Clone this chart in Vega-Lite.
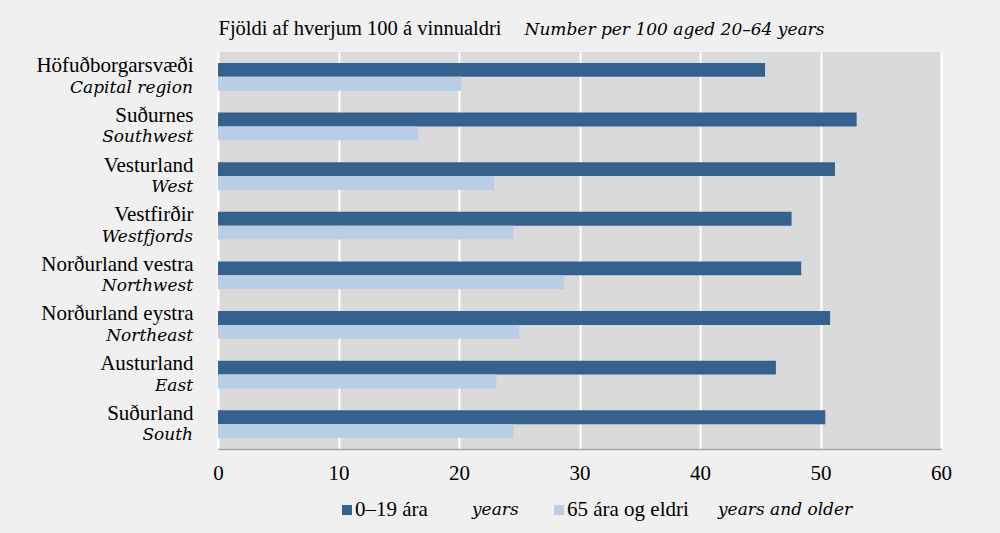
{
  "$schema": "https://vega.github.io/schema/vega-lite/v6.json",
  "background": "#f0f0f0",
  "padding": {"left": 35, "top": 18, "right": 50, "bottom": 14},
  "spacing": 16,
  "config": {
    "font": "Liberation Serif",
    "view": {"stroke": null},
    "axis": {"labelFont": "Liberation Serif", "titleFont": "Liberation Serif", "labelColor": "#000000", "titleColor": "#000000", "labelFontSize": 21, "titleFontSize": 20.5, "titleFontWeight": "normal"},
    "text": {"font": "Liberation Serif", "fontSize": 21, "color": "#000000"}
  },
  "datasets": {
    "bars": [
      {"region": "Höfuðborgarsvæði", "group": "0–19 ára", "value": 45.4},
      {"region": "Höfuðborgarsvæði", "group": "65 ára og eldri", "value": 20.2},
      {"region": "Suðurnes", "group": "0–19 ára", "value": 53.0},
      {"region": "Suðurnes", "group": "65 ára og eldri", "value": 16.6},
      {"region": "Vesturland", "group": "0–19 ára", "value": 51.2},
      {"region": "Vesturland", "group": "65 ára og eldri", "value": 22.9},
      {"region": "Vestfirðir", "group": "0–19 ára", "value": 47.6},
      {"region": "Vestfirðir", "group": "65 ára og eldri", "value": 24.5},
      {"region": "Norðurland vestra", "group": "0–19 ára", "value": 48.4},
      {"region": "Norðurland vestra", "group": "65 ára og eldri", "value": 28.7},
      {"region": "Norðurland eystra", "group": "0–19 ára", "value": 50.8},
      {"region": "Norðurland eystra", "group": "65 ára og eldri", "value": 25.0},
      {"region": "Austurland", "group": "0–19 ára", "value": 46.3},
      {"region": "Austurland", "group": "65 ára og eldri", "value": 23.1},
      {"region": "Suðurland", "group": "0–19 ára", "value": 50.4},
      {"region": "Suðurland", "group": "65 ára og eldri", "value": 24.5}
    ],
    "labels": [
      {"region": "Höfuðborgarsvæði", "en": "Capital region"},
      {"region": "Suðurnes", "en": "Southwest"},
      {"region": "Vesturland", "en": "West"},
      {"region": "Vestfirðir", "en": "Westfjords"},
      {"region": "Norðurland vestra", "en": "Northwest"},
      {"region": "Norðurland eystra", "en": "Northeast"},
      {"region": "Austurland", "en": "East"},
      {"region": "Suðurland", "en": "South"}
    ],
    "legend": [
      {"group": "0–19 ára", "en": "years"},
      {"group": "65 ára og eldri", "en": "years and older"}
    ]
  },
  "vconcat": [
    {
      "width": 723,
      "height": 397,
      "view": {"fill": "#dadada", "stroke": null},
      "resolve": {"axis": {"x": "independent"}},
      "layer": [
        {
          "data": {"name": "bars"},
          "mark": {"type": "bar"},
          "encoding": {
            "y": {
              "field": "region", "type": "nominal",
              "sort": ["Höfuðborgarsvæði", "Suðurnes", "Vesturland", "Vestfirðir", "Norðurland vestra", "Norðurland eystra", "Austurland", "Suðurland"],
              "scale": {"paddingInner": 0.44, "paddingOuter": 0.22},
              "axis": {
                "ticks": false, "domain": false, "labelPadding": 25, "labelOffset": -4.5, "labelBaseline": "alphabetic",
                "title": "Fjöldi af hverjum 100 á vinnualdri", "titleAngle": 0, "titleX": 0, "titleY": -18,
                "titleAlign": "left", "titleBaseline": "alphabetic"
              }
            },
            "yOffset": {"field": "group", "type": "nominal", "sort": ["0–19 ára", "65 ára og eldri"], "scale": {"paddingInner": 0}},
            "x": {
              "field": "value", "type": "quantitative",
              "scale": {"domain": [0, 60], "nice": false},
              "axis": {
                "values": [0, 10, 20, 30, 40, 50, 60], "title": null, "ticks": false,
                "domainColor": "#a6a6a6", "domainWidth": 1.5, "gridColor": "#ffffff", "gridWidth": 2, "gridOpacity": 1,
                "labelPadding": 13, "labelFlush": false
              }
            },
            "color": {
              "field": "group", "type": "nominal",
              "scale": {"domain": ["0–19 ára", "65 ára og eldri"], "range": ["#35618f", "#b9cde5"]},
              "legend": null
            }
          }
        },
        {
          "data": {"name": "labels"},
          "mark": {"type": "text", "align": "right", "baseline": "alphabetic", "dx": -25, "dy": 16, "fontStyle": "italic", "font": "DejaVu Serif", "fontSize": 17},
          "encoding": {
            "y": {"field": "region", "type": "nominal", "sort": ["Höfuðborgarsvæði", "Suðurnes", "Vesturland", "Vestfirðir", "Norðurland vestra", "Norðurland eystra", "Austurland", "Suðurland"]},
            "x": {
              "datum": 0, "type": "quantitative",
              "axis": {
                "orient": "top", "labels": false, "ticks": false, "domain": false, "grid": false,
                "title": "Number per 100 aged 20–64 years", "titleFontStyle": "italic", "titleFont": "DejaVu Serif", "titleFontSize": 17,
                "titleX": 306, "titleY": -18, "titleAlign": "left", "titleBaseline": "alphabetic"
              }
            },
            "text": {"field": "en"}
          }
        }
      ]
    },
    {
      "width": 636,
      "height": 22,
      "data": {"name": "legend"},
      "resolve": {"scale": {"x": "independent"}},
      "layer": [
        {
          "mark": {"type": "square", "size": 100, "opacity": 1},
          "encoding": {
            "x": {"field": "group", "type": "nominal", "sort": ["0–19 ára", "65 ára og eldri"], "scale": {"type": "point", "padding": 1, "align": 0.3042}, "axis": null},
            "color": {"field": "group", "type": "nominal", "scale": {"domain": ["0–19 ára", "65 ára og eldri"], "range": ["#35618f", "#b9cde5"]}, "legend": null}
          }
        },
        {
          "mark": {"type": "text", "align": "left", "baseline": "middle", "dx": 8, "font": "Liberation Serif", "fontSize": 21},
          "encoding": {
            "x": {"field": "group", "type": "nominal", "sort": ["0–19 ára", "65 ára og eldri"], "scale": {"type": "point", "padding": 1, "align": 0.3042}, "axis": null},
            "text": {"field": "group"}
          }
        },
        {
          "mark": {"type": "text", "align": "left", "baseline": "middle", "dx": 138.5, "fontStyle": "italic", "font": "DejaVu Serif", "fontSize": 17},
          "encoding": {
            "x": {"field": "en", "type": "nominal", "sort": ["years", "years and older"], "scale": {"type": "point", "padding": 0.7927, "align": 0.2962}, "axis": null},
            "text": {"field": "en"}
          }
        }
      ]
    }
  ]
}
